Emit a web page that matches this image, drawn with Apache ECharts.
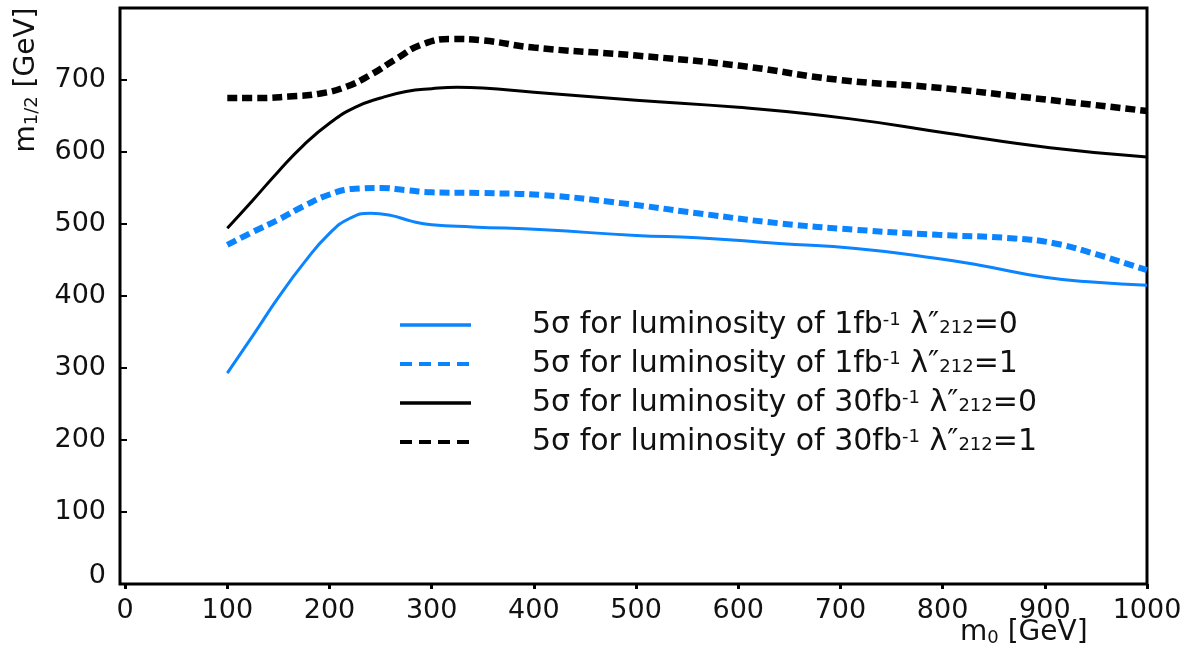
<!DOCTYPE html>
<html>
<head>
<meta charset="utf-8">
<script src="https://cdn.jsdelivr.net/npm/echarts@6/dist/echarts.min.js"></script>
<style>html,body{margin:0;padding:0;background:#fff;}#c{width:1199px;height:652px;}</style>
</head>
<body>
<div id="c"></div>
<script>
const xTicks = [0,100,200,300,400,500,600,700,800,900,1000];
const yTicks = [0,100,200,300,400,500,600,700];

const seriesNames = [
  "5σ for luminosity of 1fb-1 λ″212=0",
  "5σ for luminosity of 1fb-1 λ″212=1",
  "5σ for luminosity of 30fb-1 λ″212=0",
  "5σ for luminosity of 30fb-1 λ″212=1"
];

const blueSolidX = [100,125,150,175,200,220,240,260,280,300,340,410,500,560,640,715,795,835,900,950,1000];
const blueSolidY = [293,345,398,446,487,508,515,512,504,499,496,492,484,481,473,466,452,443,426,419,415];

const blueDashX = [100,125,150,175,200,225,250,275,300,350,410,485,560,640,715,795,870,910,950,1000];
const blueDashY = [471,489,506,525,541,549,550,547,544,543,540,529,515,501,492,485,480,473,458,436];

const blackSolidX = [100,125,150,175,200,225,250,275,300,325,350,400,500,600,710,805,905,1000];
const blackSolidY = [494,533,573,610,640,662,675,684,688,690,689,683,672,662,646,626,606,593];

const blackDashX = [100,130,160,190,215,240,265,290,320,350,400,500,600,700,790,875,1000];
const blackDashY = [675,675,677,681,690,707,729,749,757,755,745,734,720,700,690,677,657];

function zip(xs, ys){ return xs.map((x,i)=>[x, ys[i]]); }

const FONT = 'DejaVu Sans';
const BLUE = '#0a84ff';

const legendLine = [
  {color:BLUE, width:3.5, type:'solid'},
  {color:BLUE, width:4, type:[12,7]},
  {color:'#000', width:3.5, type:'solid'},
  {color:'#000', width:4, type:[12,7]}
];

const chart = echarts.init(document.getElementById('c'));
chart.setOption({
  animation: false,
  backgroundColor: '#fff',
  grid: {left:120, right:52, top:8, bottom:68, show:true, borderColor:'#000', borderWidth:3, backgroundColor:'transparent'},
  xAxis: {
    type:'value', min:-5, max:1000,
    axisLine:{show:false, onZero:false},
    axisTick:{show:true, customValues:xTicks, length:5, lineStyle:{color:'#000', width:3}},
    axisLabel:{customValues:xTicks, margin:13, fontSize:27, color:'#111', fontFamily:FONT,
      formatter: v => String(v)},
    splitLine:{show:false}
  },
  yAxis: {
    type:'value', min:0, max:800,
    axisLine:{show:false, onZero:false},
    axisTick:{show:true, inside:true, customValues:yTicks, length:7, lineStyle:{color:'#000', width:2}},
    axisLabel:{customValues:yTicks, margin:14, fontSize:27, color:'#111', fontFamily:FONT,
      formatter: v => v === 0 ? '{z|0}' : String(v),
      rich:{z:{fontSize:27, fontFamily:FONT, color:'#111', padding:[0,0,16,0]}}},
    splitLine:{show:false}
  },
  legend: {
    orient:'vertical', left:398, top:308, padding:0, itemWidth:71, itemHeight:14, itemGap:5,
    data: seriesNames.map((n,i)=>({name:n, lineStyle:legendLine[i]})),
    itemStyle:{opacity:0},
    formatter: function(name){
      const m = name.match(/^(.*fb)-1 λ″212(=\d)$/);
      return m[1] + '{sup|-1} λ″{sub|212}' + m[2];
    },
    textStyle:{fontSize:30, lineHeight:34, color:'#111', fontFamily:FONT, padding:[0,0,0,56],
      rich:{
        sup:{fontSize:18, fontFamily:FONT, color:'#111', verticalAlign:'top', lineHeight:34, padding:[3,0,0,0]},
        sub:{fontSize:18, fontFamily:FONT, color:'#111', verticalAlign:'bottom', lineHeight:34, padding:[0,0,5,0]}
      }}
  },
  graphic: [
    {type:'text', left:960, top:619, style:{
      text:'m{s|0} [GeV]', fontSize:28, fontFamily:FONT, fill:'#111',
      rich:{s:{fontSize:18, fontFamily:FONT, fill:'#111', verticalAlign:'bottom'}}}},
    {type:'text', x:27, y:80, rotation:Math.PI/2, style:{
      text:'m{s|1/2} [GeV]', fontSize:28, fontFamily:FONT, fill:'#111', align:'center', verticalAlign:'middle',
      rich:{s:{fontSize:18, fontFamily:FONT, fill:'#111', verticalAlign:'bottom'}}}}
  ],
  series: [
    {name:seriesNames[0], type:'line', data:zip(blueSolidX, blueSolidY), smooth:0.5, symbol:'none',
      lineStyle:{color:BLUE, width:3}, itemStyle:{color:BLUE}},
    {name:seriesNames[1], type:'line', data:zip(blueDashX, blueDashY), smooth:0.5, symbol:'none',
      lineStyle:{color:BLUE, width:6, type:[10,5]}, itemStyle:{color:BLUE}},
    {name:seriesNames[2], type:'line', data:zip(blackSolidX, blackSolidY), smooth:0.5, symbol:'none',
      lineStyle:{color:'#000', width:3}, itemStyle:{color:'#000'}},
    {name:seriesNames[3], type:'line', data:zip(blackDashX, blackDashY), smooth:0.5, symbol:'none',
      lineStyle:{color:'#000', width:6.5, type:[10,5]}, itemStyle:{color:'#000'}}
  ]
});
</script>
</body>
</html>
